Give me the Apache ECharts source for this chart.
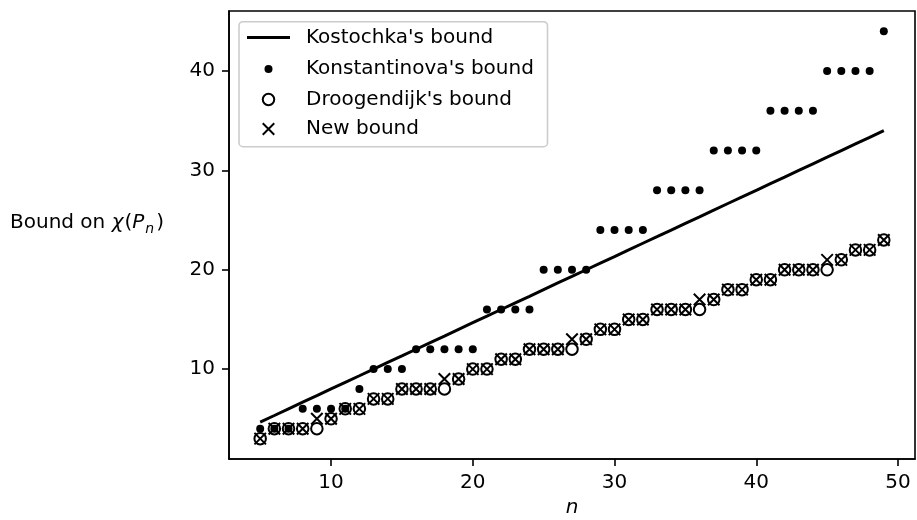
<!DOCTYPE html>
<html>
<head>
<meta charset="utf-8">
<script src="https://cdn.jsdelivr.net/npm/echarts@6/dist/echarts.min.js"></script>
<style>
html,body{margin:0;padding:0;background:#fff;}
#chart{width:917px;height:520px;}
</style>
</head>
<body>
<div id="chart"></div>
<script>
// ---- data ----
const nValues = [5,6,7,8,9,10,11,12,13,14,15,16,17,18,19,20,21,22,23,24,25,26,27,28,29,30,31,32,33,34,35,36,37,38,39,40,41,42,43,44,45,46,47,48,49];
const kostochka = [4.67,5.33,6,6.67,7.33,8,8.67,9.33,10,10.67,11.33,12,12.67,13.33,14,14.67,15.33,16,16.67,17.33,18,18.67,19.33,20,20.67,21.33,22,22.67,23.33,24,24.67,25.33,26,26.67,27.33,28,28.67,29.33,30,30.67,31.33,32,32.67,33.33,34];
const konstantinova = [4,4,4,6,6,6,6,8,10,10,10,12,12,12,12,12,16,16,16,16,20,20,20,20,24,24,24,24,28,28,28,28,32,32,32,32,36,36,36,36,40,40,40,40,44];
const droogendijk = [3,4,4,4,4,5,6,6,7,7,8,8,8,8,9,10,10,11,11,12,12,12,12,13,14,14,15,15,16,16,16,16,17,18,18,19,19,20,20,20,20,21,22,22,23];
const newBound = [3,4,4,4,5,5,6,6,7,7,8,8,8,9,9,10,10,11,11,12,12,12,13,13,14,14,15,15,16,16,16,17,17,18,18,19,19,20,20,20,21,21,22,22,23];
const seriesNames = ["Kostochka's bound", "Konstantinova's bound", "Droogendijk's bound", "New bound"];
const xTicks = [10,20,30,40,50];
const yTicks = [10,20,30,40];

const pairs = arr => nValues.map((n, i) => [n, arr[i]]);
const FONT = 'DejaVu Sans';
const X_PATH = 'path://M0,0L10,10M10,0L0,10';

const chart = echarts.init(document.getElementById('chart'), null, {renderer: 'canvas'});

// the icon column is centred at x = 268, text starts at x = 306
const legendRow = (item, rowCenter, itemHeight, visibleLeftInset) => ({
  data: [item],
  left: 247 + visibleLeftInset, top: rowCenter - 10,
  orient: 'vertical',
  padding: 0,
  itemWidth: 43, itemHeight: itemHeight,
  selectedMode: false,
  textStyle: {fontFamily: FONT, fontSize: 20, color: '#000', lineHeight: 20, padding: [0,0,0,11]},
  z: 5
});

const option = {
  animation: false,
  backgroundColor: '#fff',
  grid: {left: 229, top: 11, width: 686, height: 448, outerBoundsMode: 'none', containLabel: false,
         show: true, borderColor: '#000', borderWidth: 1.6, backgroundColor: 'transparent'},
  xAxis: {
    type: 'value', min: 2.8, max: 51.2,
    splitLine: {show: false},
    axisLine: {show: true, onZero: false, lineStyle: {color: '#000', width: 1.6}},
    axisTick: {show: true, inside: false, length: 7, lineStyle: {color: '#000', width: 1.6}, customValues: xTicks},
    axisLabel: {color: '#000', fontFamily: FONT, fontSize: 20, margin: 14, customValues: xTicks},
    name: 'n', nameLocation: 'middle', nameGap: 39,
    nameTextStyle: {fontFamily: FONT, fontSize: 20, fontStyle: 'italic', color: '#000'}
  },
  yAxis: {
    type: 'value', min: 0.95, max: 46.05,
    splitLine: {show: false},
    axisLine: {show: true, onZero: false, lineStyle: {color: '#000', width: 1.6}},
    axisTick: {show: true, inside: false, length: 7, lineStyle: {color: '#000', width: 1.6}, customValues: yTicks},
    axisLabel: {color: '#000', fontFamily: FONT, fontSize: 20, margin: 14, customValues: yTicks}
  },
  legend: [
    legendRow({name: seriesNames[0], icon: 'rect', itemStyle: {color: '#000', borderWidth: 0}}, 37.5, 3, 0),
    legendRow({name: seriesNames[1]}, 69, 8, 21.5 - 4),
    legendRow({name: seriesNames[2]}, 99.5, 11.5, 21.5 - 5.75 - 1),
    legendRow({name: seriesNames[3]}, 129, 11.5, 21.5 - 5.75 - 1)
  ],
  graphic: [
    {type: 'rect', z: 3, shape: {x: 239, y: 21.7, width: 308.5, height: 125, r: 4},
     style: {fill: 'rgba(255,255,255,0.8)', stroke: '#cccccc', lineWidth: 1.6}},
    {type: 'text', z: 5, left: 10, top: 210,
     style: {
       text: '{r|Bound on }{i|χ}{r|(}{i|P}{s|n}{r|)}',
       rich: {
         r: {fontFamily: FONT, fontSize: 20, color: '#000', lineHeight: 24},
         i: {fontFamily: FONT, fontSize: 20, fontStyle: 'italic', color: '#000', lineHeight: 24, padding: [0,1,0,0]},
         s: {fontFamily: FONT, fontSize: 14, fontStyle: 'italic', color: '#000', lineHeight: 24, padding: [12,2,0,0]}
       }
     }}
  ],
  series: [
    {name: seriesNames[0], type: 'line', data: pairs(kostochka), showSymbol: false, symbol: 'none',
     lineStyle: {color: '#000', width: 3}, itemStyle: {color: '#000'}, z: 2},
    {name: seriesNames[1], type: 'scatter', data: pairs(konstantinova), symbol: 'circle', symbolSize: 8,
     itemStyle: {color: '#000', opacity: 1}, z: 2},
    {name: seriesNames[2], type: 'scatter', data: pairs(droogendijk), symbol: 'circle', symbolSize: 11.5,
     itemStyle: {color: 'rgba(0,0,0,0)', borderColor: '#000', borderWidth: 2, opacity: 1}, z: 2},
    {name: seriesNames[3], type: 'scatter', data: pairs(newBound), symbol: X_PATH, symbolSize: 11.5,
     itemStyle: {color: 'rgba(0,0,0,0)', borderColor: '#000', borderWidth: 2, opacity: 1}, z: 2}
  ]
};
chart.setOption(option);
</script>
</body>
</html>
